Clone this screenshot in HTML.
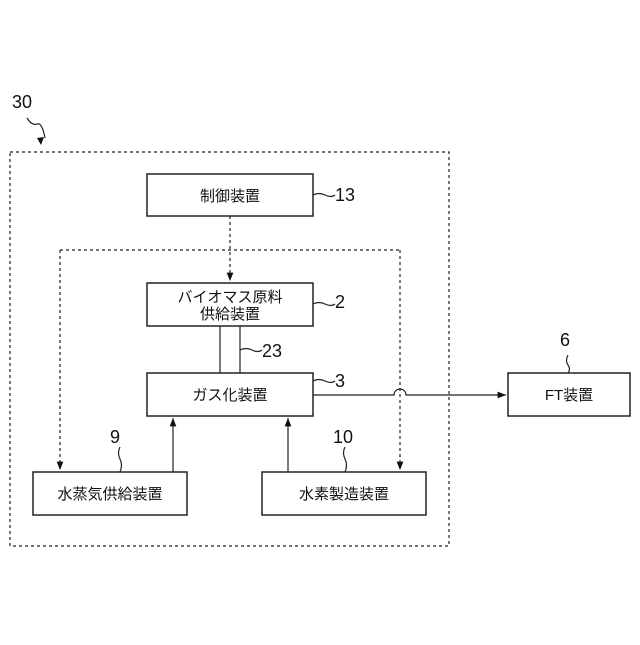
<!DOCTYPE html>
<html><head><meta charset="utf-8"><style>
body{margin:0;background:#fff}
svg text{font-family:"Liberation Sans","Noto Sans CJK JP",sans-serif;fill:#111}
</style></head><body>
<svg width="640" height="640" viewBox="0 0 640 640" xmlns="http://www.w3.org/2000/svg">
<defs><marker id="a" viewBox="0 0 10 10" refX="10" refY="5" markerWidth="7" markerHeight="7" orient="auto"><path d="M0,1 L10,5 L0,9 Z" fill="#111"/></marker></defs>
<g fill="none" stroke="#222" stroke-width="1.2">
<rect x="10" y="152" width="439" height="394" stroke-dasharray="3,3"/>
<path d="M60,250 H400" stroke-dasharray="3,3"/>
<path d="M60,250 V470" stroke-dasharray="3,3" marker-end="url(#a)"/>
<path d="M400,250 V470" stroke-dasharray="3,3" marker-end="url(#a)"/>
<path d="M230,216 V281" stroke-dasharray="3,3" marker-end="url(#a)"/>
<rect x="147" y="174" width="166" height="42" stroke-width="1.5"/>
<rect x="147" y="283" width="166" height="43" stroke-width="1.5"/>
<rect x="147" y="373" width="166" height="43" stroke-width="1.5"/>
<rect x="508" y="373" width="122" height="43" stroke-width="1.5"/>
<rect x="33" y="472" width="154" height="43" stroke-width="1.5"/>
<rect x="262" y="472" width="164" height="43" stroke-width="1.5"/>
<path d="M220,326 V373 M240,326 V373"/>
<path d="M313,395 H394 A6,6 0 0 1 406,395 H506" marker-end="url(#a)"/>
<path d="M173,472 V418" marker-end="url(#a)"/>
<path d="M288,472 V418" marker-end="url(#a)"/>
<path d="M313,195 q6,-3 12,0 t10,0"/>
<path d="M313,304 q6,-3 12,0 t10,0"/>
<path d="M240,350 q6,-3 12,0 t10,0"/>
<path d="M313,381 q6,-3 12,0 t10,0"/>
<path d="M568,355 q-3,6 0,10 t0,8"/>
<path d="M120,447 q-3,6 0,12 t0,13"/>
<path d="M345,447 q-3,6 0,12 t0,13"/>
<path d="M27,118 q5,8 10,6 t8,14" />
</g>
<path d="M41,145 l-4,-7 l7,-1 z" fill="#111"/>
<g font-size="15" text-anchor="middle">
<text x="230" y="201">制御装置</text>
<text x="230" y="302">バイオマス原料</text>
<text x="230" y="319">供給装置</text>
<text x="230" y="400">ガス化装置</text>
<text x="569" y="400">FT装置</text>
<text x="110" y="499">水蒸気供給装置</text>
<text x="344" y="499">水素製造装置</text>
</g>
<g font-size="18">
<text x="12" y="108">30</text>
<text x="335" y="201">13</text>
<text x="335" y="308">2</text>
<text x="262" y="357">23</text>
<text x="335" y="387">3</text>
<text x="560" y="346">6</text>
<text x="110" y="443">9</text>
<text x="333" y="443">10</text>
</g>
</svg>
</body></html>
